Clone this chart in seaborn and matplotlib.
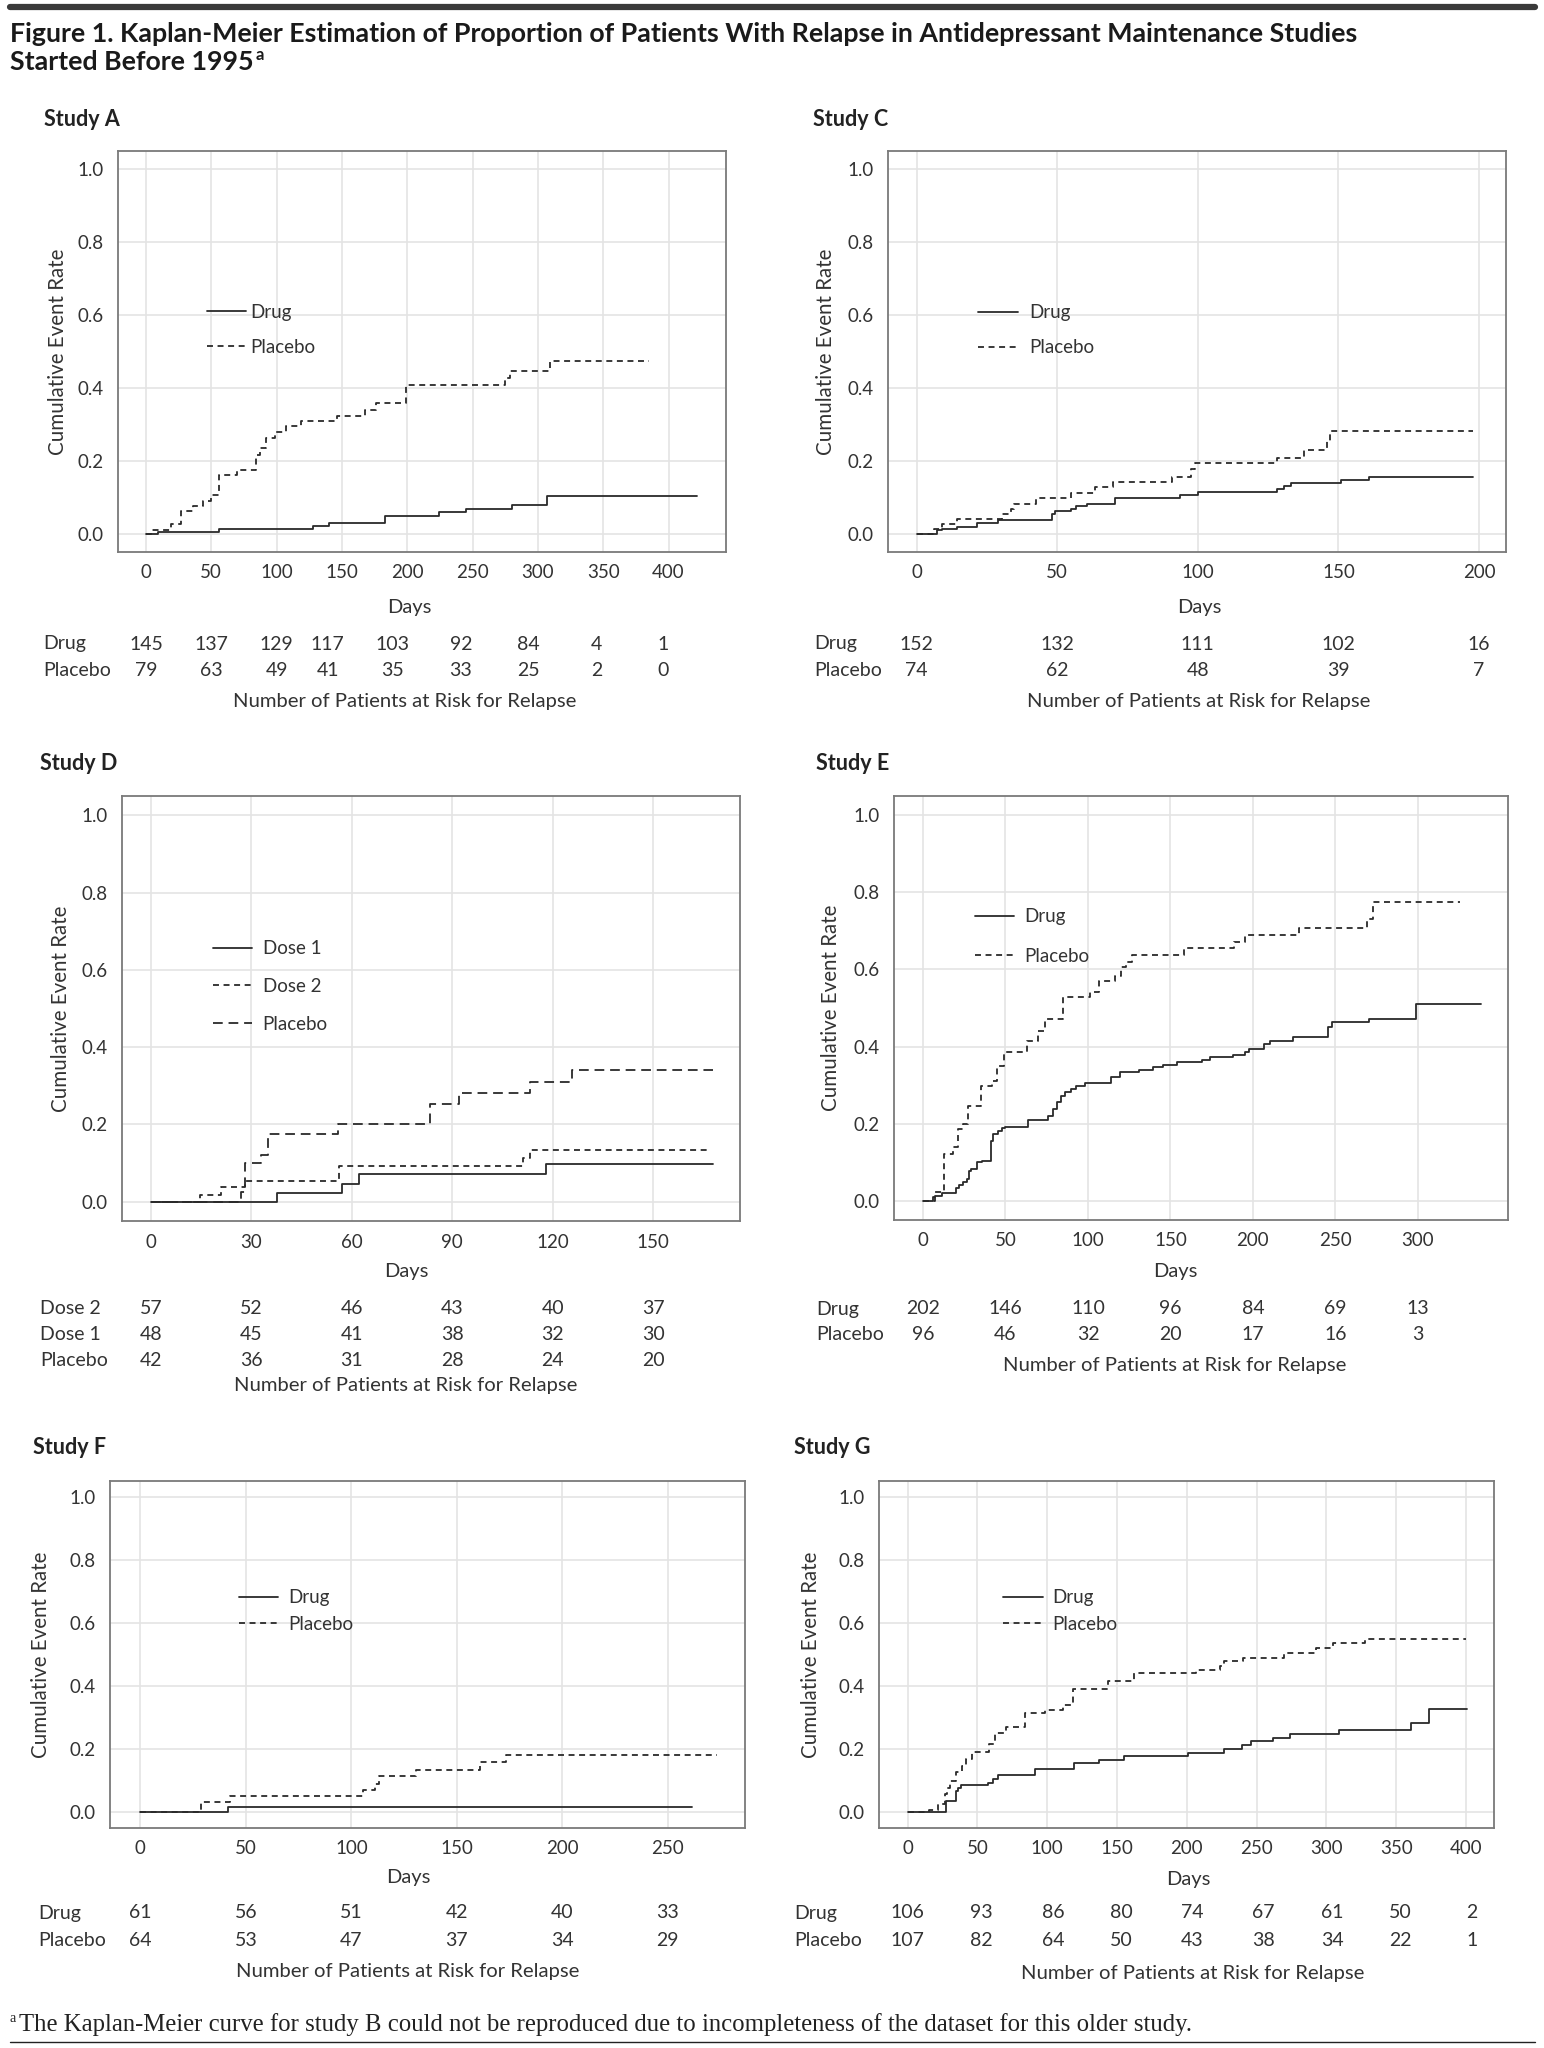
import matplotlib
matplotlib.use('Agg')
import matplotlib.pyplot as plt
import seaborn as sns
from matplotlib.lines import Line2D
from matplotlib.ticker import FormatStrFormatter
from matplotlib.transforms import blended_transform_factory

# ---------------- data ----------------
# Study A
a_drug_t = [0, 9, 56, 128, 140, 183, 224, 245, 280, 307, 422]
a_drug_v = [0, 0.006, 0.014, 0.022, 0.030, 0.048, 0.059, 0.068, 0.079, 0.103, 0.103]
a_plac_t = [0, 4, 19.5, 27, 36, 44, 50, 56, 70, 84, 87, 92, 99, 107, 119, 146, 168, 176, 199, 275, 279, 309, 385]
a_plac_v = [0, 0.011, 0.026, 0.062, 0.077, 0.091, 0.107, 0.160, 0.176, 0.215, 0.236, 0.263, 0.279, 0.295,
            0.309, 0.324, 0.340, 0.359, 0.407, 0.428, 0.447, 0.474, 0.474]
a_risk_days = [0, 50, 100, 139, 189, 241, 293, 345, 396]
a_risk_drug = [145, 137, 129, 117, 103, 92, 84, 4, 1]
a_risk_plac = [79, 63, 49, 41, 35, 33, 25, 2, 0]

# Study C
c_drug_t = [0, 7.2, 9, 14.4, 21.5, 28.9, 48.2, 49.3, 55, 56.5, 60.6, 70.4, 93.5, 100, 128, 130.6, 133.3, 151, 160.7, 198]
c_drug_v = [0, 0.009, 0.014, 0.019, 0.030, 0.039, 0.055, 0.063, 0.068, 0.075, 0.083, 0.097, 0.106, 0.115,
            0.123, 0.131, 0.140, 0.147, 0.156, 0.156]
c_plac_t = [0, 6.3, 9, 14.4, 30.3, 33.7, 34.6, 42.5, 54.8, 63.6, 69.7, 90.8, 97.5, 98.9, 128, 137.6, 146, 147, 198]
c_plac_v = [0, 0.014, 0.028, 0.041, 0.055, 0.069, 0.083, 0.097, 0.112, 0.127, 0.143, 0.157, 0.177, 0.194,
            0.209, 0.229, 0.255, 0.283, 0.283]
c_risk_days = [0, 50, 100, 150, 200]
c_risk_drug = [152, 132, 111, 102, 16]
c_risk_plac = [74, 62, 48, 39, 7]

# Study D
d_dose1_t = [0, 37.7, 57, 62, 118, 168]
d_dose1_v = [0, 0.023, 0.047, 0.071, 0.098, 0.098]
d_dose2_t = [0, 14.7, 21, 28.2, 56.2, 111.2, 113.2, 167]
d_dose2_v = [0, 0.017, 0.038, 0.053, 0.092, 0.114, 0.134, 0.134]
d_plac_t = [0, 26.8, 28.2, 32.8, 34.8, 56, 83.4, 92, 113.2, 125.9, 168]
d_plac_v = [0, 0.025, 0.101, 0.122, 0.174, 0.202, 0.254, 0.282, 0.309, 0.340, 0.340]
d_risk_days = [0, 30, 60, 90, 120, 150]
d_risk_dose2 = [57, 52, 46, 43, 40, 37]
d_risk_dose1 = [48, 45, 41, 38, 32, 30]
d_risk_plac = [42, 36, 31, 28, 24, 20]

# Study E
e_drug_t = [0, 5.8, 7, 11.6, 19.8, 22, 24.4, 26.7, 27.9, 29, 32.6, 36, 41.4, 42.6, 45.3, 47.7, 50, 63.5, 75.6,
            79, 81.4, 83.7, 86, 89.5, 93, 98.1, 114, 119.3, 130.7, 139.5, 145.3, 154, 169, 174, 187.7, 195.3,
            197.7, 206.5, 210.5, 224.4, 245.3, 248.1, 270.2, 298.8, 338.4]
e_drug_v = [0, 0.009, 0.013, 0.019, 0.032, 0.041, 0.048, 0.056, 0.078, 0.082, 0.100, 0.104, 0.156, 0.173,
            0.182, 0.189, 0.192, 0.209, 0.219, 0.238, 0.255, 0.272, 0.281, 0.290, 0.297, 0.305, 0.320, 0.333,
            0.340, 0.346, 0.353, 0.359, 0.366, 0.374, 0.379, 0.387, 0.394, 0.407, 0.415, 0.424, 0.450, 0.463,
            0.471, 0.510, 0.510]
e_plac_t = [0, 7, 12.8, 18, 21, 24, 27, 34.9, 41.9, 45, 48.8, 62.8, 70, 74, 84.9, 101.2, 107, 116.3, 119.8,
            123.3, 126.7, 158, 188.4, 195.3, 228, 269.3, 272.6, 325.6]
e_plac_v = [0, 0.023, 0.121, 0.140, 0.185, 0.200, 0.247, 0.298, 0.311, 0.350, 0.385, 0.415, 0.440, 0.471,
            0.528, 0.541, 0.571, 0.584, 0.606, 0.619, 0.638, 0.655, 0.672, 0.689, 0.707, 0.731, 0.776, 0.776]
e_risk_days = [0, 50, 100, 150, 200, 250, 300]
e_risk_drug = [202, 146, 110, 96, 84, 69, 13]
e_risk_plac = [96, 46, 32, 20, 17, 16, 3]

# Study F
f_drug_t = [0, 41.6, 261.7]
f_drug_v = [0, 0.015, 0.015]
f_plac_t = [0, 28.5, 42.3, 105.6, 111, 113, 130.8, 161.2, 173.4, 273.4]
f_plac_v = [0, 0.032, 0.050, 0.070, 0.090, 0.114, 0.135, 0.159, 0.180, 0.180]
f_risk_days = [0, 50, 100, 150, 200, 250]
f_risk_drug = [61, 56, 51, 42, 40, 33]
f_risk_plac = [64, 53, 47, 37, 34, 29]

# Study G
g_drug_t = [0, 27.4, 34.3, 36.2, 38.1, 57.6, 60.9, 65, 91.1, 119, 137.1, 154.7, 200.5, 226.8, 239.7, 246,
            261.9, 274, 309.1, 360.7, 373.6, 401]
g_drug_v = [0, 0.037, 0.067, 0.076, 0.087, 0.094, 0.105, 0.117, 0.137, 0.155, 0.166, 0.178, 0.189, 0.200,
            0.212, 0.225, 0.236, 0.249, 0.262, 0.284, 0.327, 0.327]
g_plac_t = [0, 15.1, 21.7, 26.6, 28.5, 30.7, 34.8, 38.9, 41.7, 45.8, 58.1, 62.3, 70.5, 84.2, 98.5, 111.6,
            118.5, 143.2, 162.4, 206.3, 223.5, 226.8, 240.5, 269.3, 292.6, 305, 327.7, 400.2]
g_plac_v = [0, 0.006, 0.027, 0.057, 0.078, 0.099, 0.126, 0.148, 0.169, 0.190, 0.217, 0.251, 0.271, 0.313,
            0.324, 0.340, 0.390, 0.415, 0.440, 0.452, 0.465, 0.479, 0.490, 0.504, 0.522, 0.535, 0.549, 0.549]
g_risk_days = [0, 53, 104, 153, 204, 255, 304, 353, 404]
g_risk_drug = [106, 93, 86, 80, 74, 67, 61, 50, 2]
g_risk_plac = [107, 82, 64, 50, 43, 38, 34, 22, 1]

# ---------------- style ----------------
sns.set_style('whitegrid')
plt.rcParams['font.family'] = ['Lato', 'DejaVu Sans']
plt.rcParams['lines.scale_dashes'] = False

INK = '#2a2a2a'
SOLID = '-'
SHORT = (0, (4.3, 3.3))
LONG = (0, (7.0, 4.2))

W, H = 1544, 2048
fig = plt.figure(figsize=(W / 100, H / 100), dpi=100)


def fy(y):
    return 1 - y / H


panels = [
    dict(name='Study A', lab=(44, 120), box=(118, 151, 726, 552), xlim=(-21.4, 444), xstep=50, xmax=400,
         series=[('Drug', a_drug_t, a_drug_v, SOLID), ('Placebo', a_plac_t, a_plac_v, SHORT)],
         leg=(0.146, 0.554, 0.95, 0.2), ylab=-0.082, days=(409, 607),
         risk_x=43, risk_days=a_risk_days,
         risk=[('Drug', a_risk_drug, 644), ('Placebo', a_risk_plac, 670)], risk_title=(405, 702)),
    dict(name='Study C', lab=(813, 120), box=(888, 151, 1506, 552), xlim=(-10.2, 209.6), xstep=50, xmax=200,
         series=[('Drug', c_drug_t, c_drug_v, SOLID), ('Placebo', c_plac_t, c_plac_v, SHORT)],
         leg=(0.146, 0.553, 0.95, 0.6), ylab=-0.084, days=(1199, 607),
         risk_x=814, risk_days=c_risk_days,
         risk=[('Drug', c_risk_drug, 644), ('Placebo', c_risk_plac, 670)], risk_title=(1199, 702)),
    dict(name='Study D', lab=(40, 763), box=(122, 796, 740, 1221), xlim=(-8.7, 176), xstep=30, xmax=150,
         series=[('Dose 1', d_dose1_t, d_dose1_v, SOLID), ('Dose 2', d_dose2_t, d_dose2_v, SHORT),
                 ('Placebo', d_plac_t, d_plac_v, LONG)],
         leg=(0.147, 0.552, 1.1, 0.55), ylab=-0.083, days=(406, 1271),
         risk_x=40, risk_days=d_risk_days,
         risk=[('Dose 2', d_risk_dose2, 1309), ('Dose 1', d_risk_dose1, 1335), ('Placebo', d_risk_plac, 1361)],
         risk_title=(406, 1386)),
    dict(name='Study E', lab=(816, 763), box=(894, 796, 1508, 1220), xlim=(-17.6, 354.7), xstep=50, xmax=300,
         series=[('Drug', e_drug_t, e_drug_v, SOLID), ('Placebo', e_plac_t, e_plac_v, SHORT)],
         leg=(0.132, 0.669, 1.2, 0.55), ylab=-0.086, days=(1175, 1271),
         risk_x=816, risk_days=e_risk_days,
         risk=[('Drug', e_risk_drug, 1309), ('Placebo', e_risk_plac, 1335)], risk_title=(1175, 1366)),
    dict(name='Study F', lab=(33, 1448), box=(110, 1481, 745, 1828), xlim=(-14.4, 286.6), xstep=50, xmax=250,
         series=[('Drug', f_drug_t, f_drug_v, SOLID), ('Placebo', f_plac_t, f_plac_v, SHORT)],
         leg=(0.203, 0.625, 0.5, 0.55), ylab=-0.093, days=(408, 1877),
         risk_x=38, risk_days=f_risk_days,
         risk=[('Drug', f_risk_drug, 1913), ('Placebo', f_risk_plac, 1940)], risk_title=(408, 1971)),
    dict(name='Study G', lab=(794, 1448), box=(879, 1481, 1494, 1828), xlim=(-20.5, 420), xstep=50, xmax=400,
         series=[('Drug', g_drug_t, g_drug_v, SOLID), ('Placebo', g_plac_t, g_plac_v, SHORT)],
         leg=(0.202, 0.625, 0.5, 0.5), ylab=-0.094, days=(1188, 1879),
         risk_x=794, risk_days=g_risk_days,
         risk=[('Drug', g_risk_drug, 1913), ('Placebo', g_risk_plac, 1940)], risk_title=(1193, 1973)),
]

for p in panels:
    l, t, r, b = p['box']
    ax = fig.add_axes([l / W, fy(b), (r - l) / W, (b - t) / H])
    for label, tt, vv, ls in p['series']:
        sns.lineplot(x=tt, y=vv, ax=ax, drawstyle='steps-post', estimator=None, sort=False,
                     color=INK, linewidth=1.3, linestyle=ls, label=label)
    ax.set_xlim(*p['xlim'])
    ax.set_ylim(-0.05, 1.05)
    ax.set_xticks(range(0, p['xmax'] + 1, p['xstep']))
    ax.set_yticks([0, 0.2, 0.4, 0.6, 0.8, 1.0])
    ax.yaxis.set_major_formatter(FormatStrFormatter('%.1f'))
    ax.grid(True, color='#e4e4e4', linewidth=1.2)
    for s in ax.spines.values():
        s.set_color('#7a7a7a')
        s.set_linewidth(1.3)
    ax.tick_params(axis='both', length=4, width=1, color='#7a7a7a', labelsize=13.5,
                   labelcolor='#333333', pad=5)
    ax.tick_params(axis='y', pad=6)
    ax.set_xlabel('')
    ax.set_ylabel('Cumulative Event Rate', fontsize=14.8, color='#333333')
    ax.yaxis.set_label_coords(p['ylab'], 0.5)

    fx, fyl, spacing, tpad = p['leg']
    ax.legend(loc='center left', bbox_to_anchor=(fx, fyl), frameon=False, fontsize=13.5,
              handlelength=2.1, handletextpad=tpad, labelspacing=spacing, borderpad=0,
              borderaxespad=0, labelcolor='#333333')

    fig.text(p['lab'][0] / W, fy(p['lab'][1]), p['name'], fontsize=15.5, fontweight='bold',
             color='#222222', ha='left', va='center')
    fig.text(p['days'][0] / W, fy(p['days'][1]), 'Days', fontsize=14.5, color='#333333',
             ha='center', va='center')

    tr = blended_transform_factory(ax.transData, fig.transFigure)
    for name, counts, yy in p['risk']:
        fig.text(p['risk_x'] / W, fy(yy), name, fontsize=14, color='#333333', ha='left', va='center')
        for d, n in zip(p['risk_days'], counts):
            ax.text(d, fy(yy), str(n), transform=tr, fontsize=14, color='#333333',
                    ha='center', va='center', clip_on=False)
    fig.text(p['risk_title'][0] / W, fy(p['risk_title'][1]), 'Number of Patients at Risk for Relapse',
             fontsize=14.6, color='#333333', ha='center', va='center')

# ---------------- title, rules, footnote ----------------
fig.add_artist(Line2D([10 / W, 1535 / W], [fy(6.5)] * 2, color='#3a3a3a', linewidth=4.5))
fig.add_artist(Line2D([10 / W, 1535 / W], [fy(2042)] * 2, color='#222222', linewidth=1.0))

t1 = fig.text(10 / W, fy(34), 'Figure 1. Kaplan-Meier Estimation of Proportion of Patients With Relapse '
              'in Antidepressant Maintenance Studies', fontsize=17, fontweight='bold', color='#1a1a1a',
              ha='left', va='center')
t2 = fig.text(10 / W, fy(62), 'Started Before 1995', fontsize=17, fontweight='bold', color='#1a1a1a',
              ha='left', va='center')
foot = fig.text(19 / W, fy(2025), 'The Kaplan-Meier curve for study B could not be reproduced due to '
                'incompleteness of the dataset for this older study.', fontsize=15.5,
                family=['Liberation Serif', 'DejaVu Serif'], color='#222222', ha='left', va='center')
fig.text(10 / W, fy(2019), 'a', fontsize=10, family=['Liberation Serif', 'DejaVu Serif'],
         color='#222222', ha='left', va='center')

# fit title and footnote widths to the reference
fig.canvas.draw()
rend = fig.canvas.get_renderer()
w1 = t1.get_window_extent(rend).width
size = 17 * 1351 / w1
t1.set_fontsize(size)
t2.set_fontsize(size)
wf = foot.get_window_extent(rend).width
foot.set_fontsize(15.5 * 1171 / wf)
fig.canvas.draw()
bb = t2.get_window_extent(rend)
fig.text((bb.x1 + 2) / W, fy(55), 'a', fontsize=size * 0.62, fontweight='bold', color='#1a1a1a',
         ha='left', va='center')

fig.savefig('out.png', dpi=100)
